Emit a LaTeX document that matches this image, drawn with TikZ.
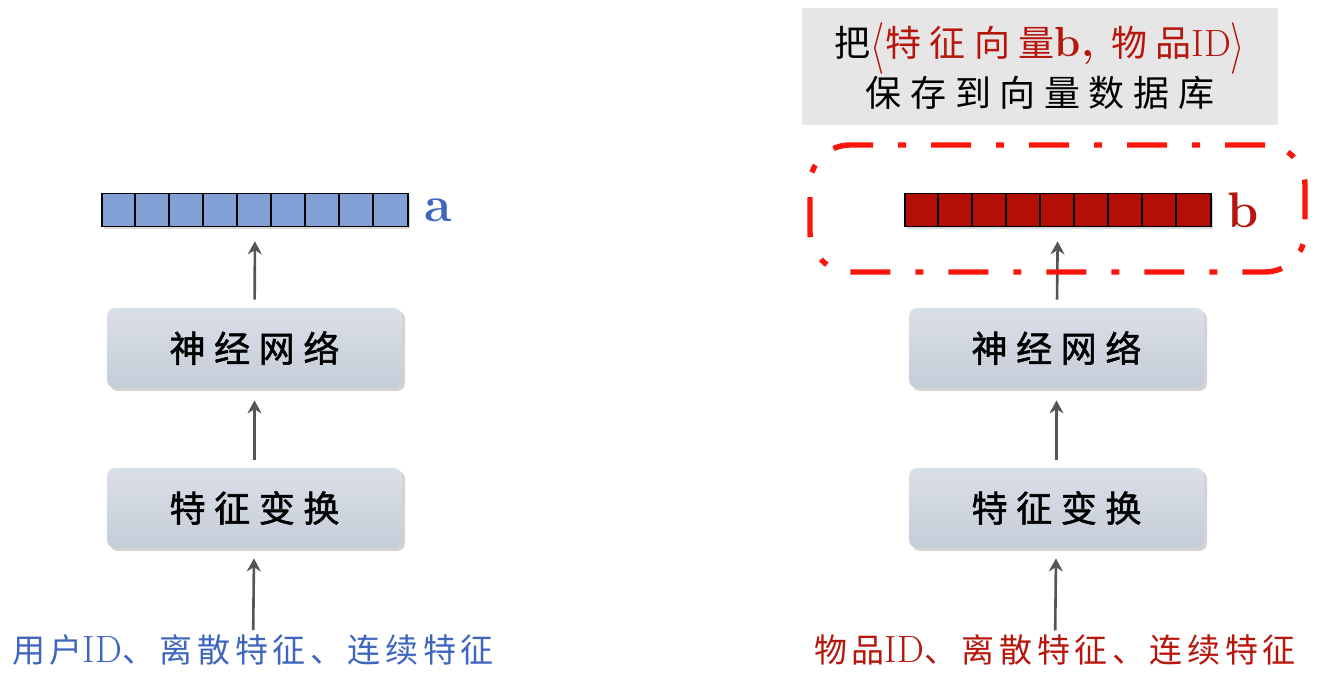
\documentclass[tikz,border=0pt]{standalone}
\usepackage{graphicx}
\usepackage{fontspec}
\newfontfamily\cjkbox[LetterSpace=24,FakeBold=1.5]{Noto Sans CJK SC}
\newfontfamily\cjkfeat[LetterSpace=14]{Noto Sans CJK SC}
\newfontfamily\cjknote[LetterSpace=24]{Noto Sans CJK SC}
\usetikzlibrary{arrows.meta,shadows}
\definecolor{userblue}{RGB}{62,102,190}
\definecolor{cellblue}{RGB}{128,160,214}
\definecolor{itemred}{RGB}{182,22,12}
\definecolor{cellred}{RGB}{178,16,6}
\definecolor{selred}{RGB}{250,22,10}
\definecolor{boxtop}{RGB}{218,223,231}
\definecolor{boxbot}{RGB}{198,205,216}
\definecolor{arrowgray}{RGB}{85,85,85}
\definecolor{notegray}{RGB}{230,230,230}
\newcommand{\idtext}{{\rmfamily\fontsize{19}{19}\selectfont ID}}
\newcommand{\tallangle}[1]{\raisebox{-2.5pt}{\scalebox{1.05}[1.5]{$#1$}}}
\begin{document}
\begin{tikzpicture}[
    x=0.5pt, y=-0.5pt,
    block/.style={rounded corners=4pt, minimum width=147.5pt, minimum height=40pt,
        top color=boxtop, bottom color=boxbot,
        drop shadow={opacity=0.35, shadow xshift=1.5pt, shadow yshift=-1.5pt},
        font=\fontsize{18}{20}\cjkbox},
    vec/.style={draw=black, line width=0.8pt, minimum width=153pt, minimum height=16.5pt,
        inner sep=0pt, drop shadow={opacity=0.3, shadow xshift=1.2pt, shadow yshift=-1.2pt}},
    veclabel/.style={font=\fontsize{25}{28}\selectfont\bfseries},
    feat/.style={inner sep=0pt, font=\fontsize{16.5}{19}\cjkfeat},
    flow/.style={draw=arrowgray, line width=1.3pt, -{Stealth[length=6.5pt,width=7pt]},
        shorten <=4pt, shorten >=6pt},
    note/.style={fill=notegray, minimum width=238pt, minimum height=58.5pt, align=center,
        font=\fontsize{18}{25}\cjknote},
    selbox/.style={draw=selred, line width=2.7pt, rounded corners=20pt,
        dash pattern=on 20pt off 12.5pt on 4pt off 12.5pt, minimum width=247.5pt,
        minimum height=63.5pt}
]
    \useasboundingbox (0,0) rectangle (1319,683);

    % rows
    \def\vecY{210}
    \def\nnY{348}
    \def\fxY{508}
    \def\inY{650}

    % user tower
    \node[vec, fill=cellblue] (vecU) at (255,\vecY) {};
    \foreach \i in {1,...,8} {
        \draw[line width=0.8pt] (vecU.south west) ++({\i*17pt},0) -- ++(0,16.5pt);
    }
    \node[veclabel, text=userblue] (labU) at (438,\vecY) {a};
    \node[block] (nnU) at (254.5,\nnY) {神经网络};
    \node[block] (fxU) at (254.5,\fxY) {特征变换};
    \node[feat, text=userblue] (inU) at (253,\inY) {用户\idtext、离散特征、连续特征};

    \draw[flow, shorten >=7pt] (nnU) -- (vecU);
    \draw[flow] (fxU) -- (nnU);
    \draw[flow, shorten <=2pt, shorten >=5pt] (inU) -- (fxU);

    % item tower
    \node[vec, fill=cellred] (vecI) at (1058,\vecY) {};
    \foreach \i in {1,...,8} {
        \draw[line width=0.8pt] (vecI.south west) ++({\i*17pt},0) -- ++(0,16.5pt);
    }
    \node[veclabel, text=itemred] (labI) at (1243,\vecY) {b};
    \node[block] (nnI) at (1056.5,\nnY) {神经网络};
    \node[block] (fxI) at (1056.5,\fxY) {特征变换};
    \node[feat, text=itemred] (inI) at (1055,\inY) {物品\idtext、离散特征、连续特征};

    \draw[flow, shorten >=7pt] (nnI) -- (vecI);
    \draw[flow] (fxI) -- (nnI);
    \draw[flow, shorten <=2pt, shorten >=5pt] (inI) -- (fxI);

    % saved vector
    \node[selbox] (sel) at (1057.5,208.5) {};
    \node[note] (store) at (1040,66.5) {把{\color{itemred}\tallangle{\langle}特征向量{\rmfamily\bfseries\fontsize{21}{21}\selectfont b,}\ 物品\idtext\tallangle{\rangle}}\\保存到向量数据库};

\end{tikzpicture}
\end{document}
